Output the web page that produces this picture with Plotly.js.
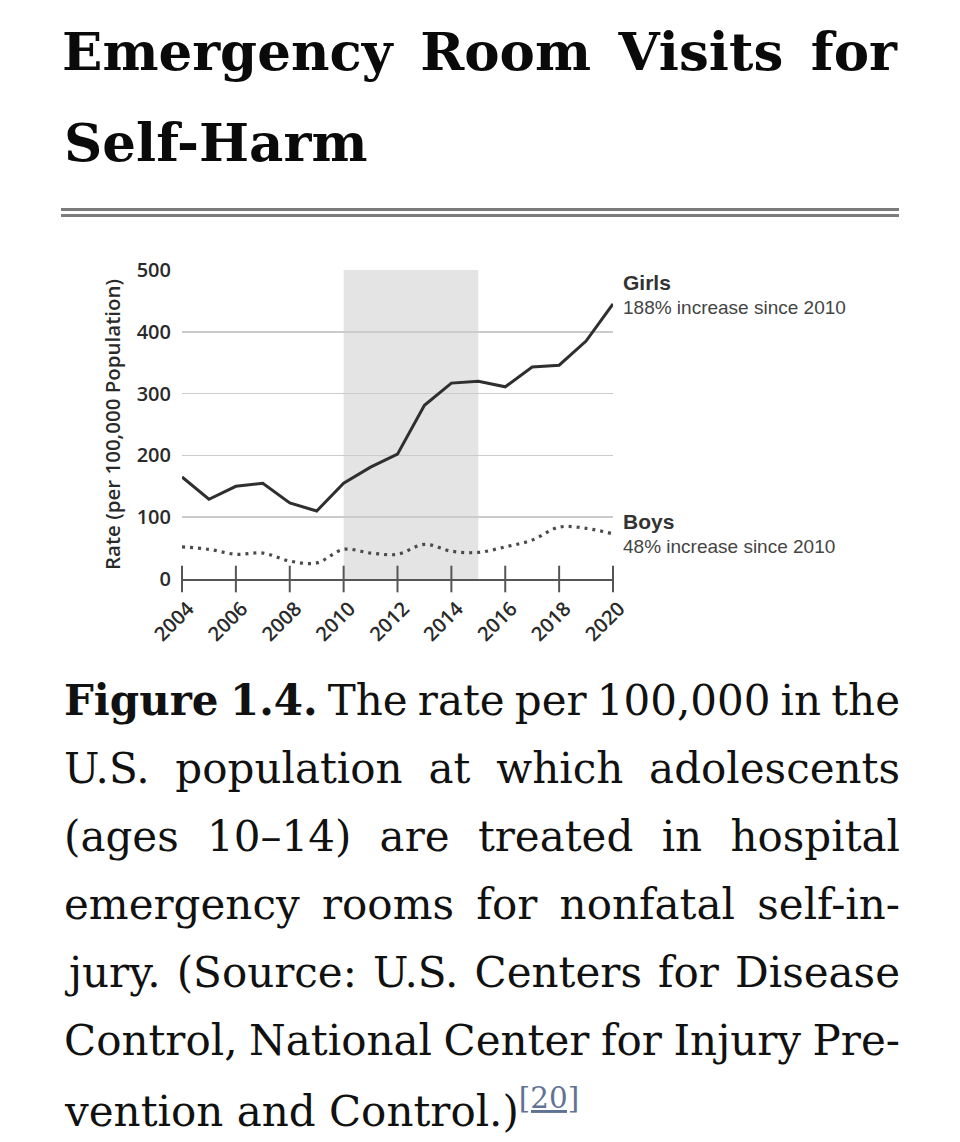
<!DOCTYPE html>
<html>
<head>
<meta charset="utf-8">
<script src="https://cdn.plot.ly/plotly-3.0.1.min.js"></script>
<style>
  html, body { margin: 0; padding: 0; background: #ffffff; }
  #chart { width: 960px; height: 1142px; }
</style>
</head>
<body>
<div id="chart"></div>
<script>
// ---- data ----
const years = [2004, 2005, 2006, 2007, 2008, 2009, 2010, 2011, 2012, 2013, 2014, 2015, 2016, 2017, 2018, 2019, 2020];
const girls = [165, 129, 150, 155, 123, 110, 155, 181, 202, 281, 317, 320, 311, 343, 346, 385, 445];
const boys  = [52, 48, 40, 42, 29, 26, 48, 42, 40, 56, 45, 43, 52, 63, 84, 82, 73];
const tickYears = [2004, 2006, 2008, 2010, 2012, 2014, 2016, 2018, 2020];
const tickLabels = ["2004", "2006", "2008", "2010", "2012", "2014", "2016", "2018", "2020"];
const yTicks = [0, 100, 200, 300, 400, 500];
const yTickLabels = ["0", "100", "200", "300", "400", "500"];
const shadedPeriod = [2010, 2015];
const seriesNames = ["Girls", "Boys"];
const seriesNotes = ["188% increase since 2010", "48% increase since 2010"];
const titleLines = ["Emergency Room Visits for", "Self-Harm"];
const captionLines = [
  "<b>Figure 1.4.</b> The rate per 100,000 in the",
  "U.S. population at which adolescents",
  "(ages 10\u201314) are treated in hospital",
  "emergency rooms for nonfatal self-in-",
  "jury. (Source: U.S. Centers for Disease",
  "Control, National Center for Injury Pre-",
  "vention and Control.)<sup><span style=\"color:#5f7394;text-decoration:underline\">[20]</span></sup>"
];

// ---- layout geometry (pixels) ----
const W = 960, H = 1142;
const PL = 182, PR = 613, PT = 270, PB = 579;
const px = v => (v - PL) / (PR - PL);
const py = v => (PB - v) / (PB - PT);
const TEXT_L = 62, TEXT_R = 898;

const serif = "DejaVu Serif, serif";
const sans = "Open Sans, sans-serif";
const arial = "Liberation Sans, Arial, sans-serif";

const traces = [
  {
    x: years, y: girls, type: "scatter", mode: "lines", name: seriesNames[0],
    line: { color: "#2f2f2f", width: 3 }, cliponaxis: false, hoverinfo: "skip"
  },
  {
    x: years, y: boys, type: "scatter", mode: "lines", name: seriesNames[1],
    line: { color: "#4a4a4a", width: 3.2, dash: "3px,5px", shape: "spline", smoothing: 1 },
    cliponaxis: false, hoverinfo: "skip"
  },
  {
    x: tickYears, y: tickYears.map(() => 0), type: "scatter", mode: "markers",
    marker: { symbol: "line-ns", size: 19, color: "#555555", line: { color: "#555555", width: 2 } },
    cliponaxis: false, hoverinfo: "skip", showlegend: false
  }
];

const annotations = [];
// title line 2
annotations.push({
  xref: "paper", yref: "paper", x: px(TEXT_L), y: py(142), xanchor: "left", yanchor: "middle",
  text: titleLines[1], showarrow: false, align: "left",
  font: { family: serif, size: 53, color: "#0a0a0a", weight: "bold" }
});
// series labels
const labelCenters = [[282, 307], [521, 546]];
seriesNames.forEach((n, i) => {
  annotations.push({
    xref: "paper", yref: "paper", x: px(621), y: py(labelCenters[i][0]), xanchor: "left", yanchor: "middle",
    text: "<b>" + n + "</b>", showarrow: false, align: "left",
    font: { family: arial, size: 21, color: "#333333" }
  });
  annotations.push({
    xref: "paper", yref: "paper", x: px(621), y: py(labelCenters[i][1]), xanchor: "left", yanchor: "middle",
    text: seriesNotes[i], showarrow: false, align: "left",
    font: { family: arial, size: 19, color: "#444444" }
  });
});
// caption
captionLines.forEach((t, i) => {
  annotations.push({
    xref: "paper", yref: "paper", x: px(TEXT_L), y: py(700 + i * 68), xanchor: "left", yanchor: "middle",
    text: t, showarrow: false, align: "left",
    font: { family: serif, size: 42, color: "#111111" }
  });
});

const shapes = [
  { type: "rect", xref: "x", yref: "y", x0: shadedPeriod[0], x1: shadedPeriod[1], y0: yTicks[0], y1: yTicks[yTicks.length - 1],
    fillcolor: "#e4e4e4", line: { width: 0 }, layer: "below" },
  { type: "line", xref: "paper", yref: "paper", x0: px(TEXT_L - 1), x1: px(TEXT_R + 1), y0: py(209.5), y1: py(209.5),
    line: { color: "#7b7b7b", width: 3 } },
  { type: "line", xref: "paper", yref: "paper", x0: px(TEXT_L - 1), x1: px(TEXT_R + 1), y0: py(215.5), y1: py(215.5),
    line: { color: "#7b7b7b", width: 3 } }
];

const layout = {
  width: W, height: H,
  margin: { l: PL, r: W - PR, t: PT, b: H - PB, pad: 0 },
  paper_bgcolor: "#ffffff", plot_bgcolor: "rgba(0,0,0,0)",
  showlegend: false,
  title: {
    text: titleLines[0],
    xref: "container", yref: "container", x: TEXT_L / W, xanchor: "left",
    y: 1 - 51 / H, yanchor: "middle",
    font: { family: serif, size: 53, color: "#0a0a0a", weight: "bold" }
  },
  xaxis: {
    range: [years[0], years[years.length - 1]],
    tickvals: tickYears, ticktext: tickLabels, tickangle: -45, ticks: "",
    ticklabelstandoff: 8, ticklabelshift: 6,
    showgrid: false, zeroline: false,
    showline: true, linecolor: "#555555", linewidth: 2,
    tickfont: { family: sans, size: 20, color: "#2a2a2a", weight: 600 },
    fixedrange: true
  },
  yaxis: {
    range: [yTicks[0], yTicks[yTicks.length - 1]],
    tickvals: yTicks, ticktext: yTickLabels, ticks: "",
    ticklabelstandoff: 10,
    showgrid: true, gridcolor: "#cbcbcb", gridwidth: 1.5, zeroline: false, showline: false,
    tickfont: { family: sans, size: 20, color: "#2a2a2a", weight: 600 },
    title: { text: "Rate (per 100,000 Population)", standoff: 10,
             font: { family: sans, size: 20.5, color: "#2a2a2a", weight: 600 } },
    fixedrange: true
  },
  shapes: shapes,
  annotations: annotations
};

function justifyLine(el, target) {
  const txt = el.textContent;
  const n = (txt.match(/ /g) || []).length;
  if (!n) return;
  el.style.wordSpacing = "0px";
  const w = el.getBBox().width;
  el.style.wordSpacing = ((target - w) / n) + "px";
}

Plotly.newPlot("chart", traces, layout, { staticPlot: true, displayModeBar: false }).then(gd => {
  const target = TEXT_R - TEXT_L;
  const t = gd.querySelector(".gtitle");
  if (t) justifyLine(t, target);
  const texts = gd.querySelectorAll("text.annotation-text");
  texts.forEach(el => {
    const c = el.textContent;
    for (let i = 0; i < captionLines.length - 1; i++) {
      const plain = captionLines[i].replace(/<[^>]+>/g, "");
      if (c === plain) { justifyLine(el, target); break; }
    }
  });
});
</script>
</body>
</html>
